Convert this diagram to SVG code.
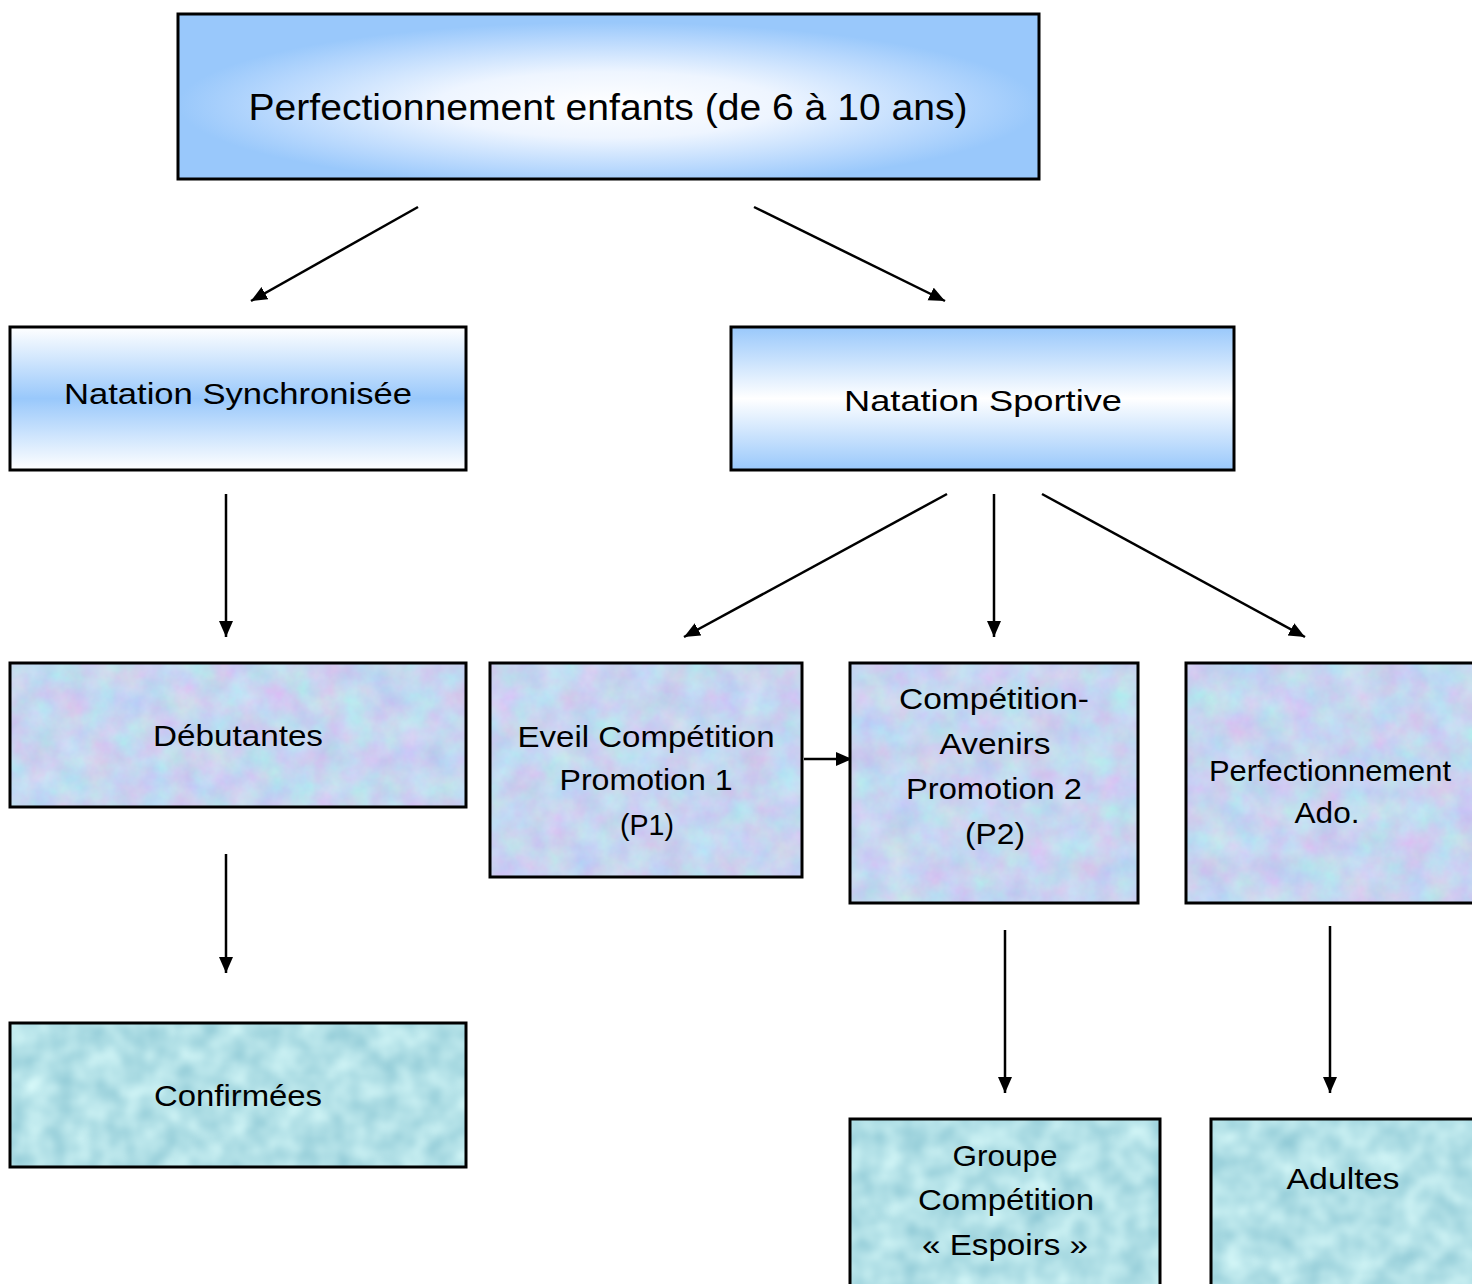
<svg xmlns="http://www.w3.org/2000/svg" width="1472" height="1284" viewBox="0 0 1472 1284">
<style>
  .box { fill: none; stroke: #000; stroke-width: 3; }
  .t { font-family: "Liberation Sans", "DejaVu Sans", sans-serif; font-size: 30px; fill: #000; text-anchor: middle; }
  .conn line { stroke: #000; stroke-width: 2.5; marker-end: url(#ah); }
</style>
<defs>
  <marker id="ah" markerUnits="userSpaceOnUse" markerWidth="18" markerHeight="16" refX="16" refY="7" orient="auto">
    <path d="M0,0 L16,7 L0,14 z" fill="#000"/>
  </marker>
  <radialGradient id="gTop" cx="0.5" cy="0.55" r="0.5">
    <stop offset="0" stop-color="#ffffff"/>
    <stop offset="0.4" stop-color="#eef5ff"/>
    <stop offset="0.8" stop-color="#b6d7fd"/>
    <stop offset="1" stop-color="#99c8fb"/>
  </radialGradient>
  <linearGradient id="gSync" x1="0" y1="0" x2="0" y2="1">
    <stop offset="0" stop-color="#ffffff"/>
    <stop offset="0.5" stop-color="#99c8fb"/>
    <stop offset="1" stop-color="#ffffff"/>
  </linearGradient>
  <linearGradient id="gSport" x1="0" y1="0" x2="0" y2="1">
    <stop offset="0" stop-color="#99c8fb"/>
    <stop offset="0.5" stop-color="#ffffff"/>
    <stop offset="1" stop-color="#99c8fb"/>
  </linearGradient>
  <filter id="mottle" x="0" y="0" width="100%" height="100%" color-interpolation-filters="sRGB">
    <feTurbulence type="fractalNoise" baseFrequency="0.035" numOctaves="4" seed="7" result="n"/>
    <feColorMatrix in="n" type="matrix" values="0.2 -0.05 0 0 0.7  -0.05 0.2 0 0 0.76  0 0 0.08 0 0.9  0 0 0 0 1" result="c"/>
    <feComposite in="c" in2="SourceAlpha" operator="in"/>
  </filter>
  <filter id="water" x="0" y="0" width="100%" height="100%" color-interpolation-filters="sRGB">
    <feTurbulence type="fractalNoise" baseFrequency="0.04" numOctaves="2" seed="11" result="n"/>
    <feColorMatrix in="n" type="matrix" values="0.3 0 0 0 0.55  0.2 0 0 0 0.78  0.15 0 0 0 0.83  0 0 0 0 1" result="c"/>
    <feComposite in="c" in2="SourceAlpha" operator="in"/>
  </filter>
</defs>
<rect width="1472" height="1284" fill="#fff"/>

<g id="connectors" class="conn">
  <line x1="418" y1="207" x2="251" y2="301"/>
  <line x1="754" y1="207" x2="945" y2="301"/>
  <line x1="226" y1="494" x2="226" y2="637"/>
  <line x1="947" y1="494" x2="684" y2="637"/>
  <line x1="994" y1="494" x2="994" y2="637"/>
  <line x1="1042" y1="494" x2="1305" y2="637"/>
  <line x1="226" y1="854" x2="226" y2="973"/>
  <line x1="804" y1="759" x2="852" y2="759"/>
  <line x1="1005" y1="930" x2="1005" y2="1093"/>
  <line x1="1330" y1="926" x2="1330" y2="1093"/>
</g>

<g id="n-top">
  <rect x="178" y="14" width="861" height="165" fill="url(#gTop)"/>
  <rect class="box" x="178" y="14" width="861" height="165"/>
  <text class="t" x="608" y="120" style="font-size:36px" textLength="719" lengthAdjust="spacingAndGlyphs">Perfectionnement enfants (de 6 à 10 ans)</text>
</g>

<g id="n-sync">
  <rect x="10" y="327" width="456" height="143" fill="url(#gSync)"/>
  <rect class="box" x="10" y="327" width="456" height="143"/>
  <text class="t" x="238" y="404" textLength="348" lengthAdjust="spacingAndGlyphs">Natation  Synchronisée</text>
</g>

<g id="n-sport">
  <rect x="731" y="327" width="503" height="143" fill="url(#gSport)"/>
  <rect class="box" x="731" y="327" width="503" height="143"/>
  <text class="t" x="983" y="411" textLength="278" lengthAdjust="spacingAndGlyphs">Natation  Sportive</text>
</g>

<g id="n-debut">
  <rect x="10" y="663" width="456" height="144" filter="url(#mottle)" fill="#000"/>
  <rect class="box" x="10" y="663" width="456" height="144"/>
  <text class="t" x="238" y="746" textLength="170" lengthAdjust="spacingAndGlyphs">Débutantes</text>
</g>

<g id="n-eveil">
  <rect x="490" y="663" width="312" height="214" filter="url(#mottle)" fill="#000"/>
  <rect class="box" x="490" y="663" width="312" height="214"/>
  <text class="t" x="646" y="747" textLength="257" lengthAdjust="spacingAndGlyphs">Eveil Compétition</text>
  <text class="t" x="646" y="790" textLength="173" lengthAdjust="spacingAndGlyphs">Promotion 1</text>
  <text class="t" x="647" y="835" textLength="54" lengthAdjust="spacingAndGlyphs">(P1)</text>
</g>

<g id="n-avenirs">
  <rect x="850" y="663" width="288" height="240" filter="url(#mottle)" fill="#000"/>
  <rect class="box" x="850" y="663" width="288" height="240"/>
  <text class="t" x="994" y="709" textLength="190" lengthAdjust="spacingAndGlyphs">Compétition-</text>
  <text class="t" x="995" y="754" textLength="111" lengthAdjust="spacingAndGlyphs">Avenirs</text>
  <text class="t" x="994" y="799" textLength="176" lengthAdjust="spacingAndGlyphs">Promotion 2</text>
  <text class="t" x="995" y="844" textLength="60" lengthAdjust="spacingAndGlyphs">(P2)</text>
</g>

<g id="n-ado">
  <rect x="1186" y="663" width="300" height="240" filter="url(#mottle)" fill="#000"/>
  <rect class="box" x="1186" y="663" width="300" height="240"/>
  <text class="t" x="1330" y="781" textLength="242" lengthAdjust="spacingAndGlyphs">Perfectionnement</text>
  <text class="t" x="1327" y="823" textLength="65" lengthAdjust="spacingAndGlyphs">Ado.</text>
</g>

<g id="n-confirm">
  <rect x="10" y="1023" width="456" height="144" filter="url(#water)" fill="#000"/>
  <rect class="box" x="10" y="1023" width="456" height="144"/>
  <text class="t" x="238" y="1106" textLength="168" lengthAdjust="spacingAndGlyphs">Confirmées</text>
</g>

<g id="n-espoirs">
  <rect x="850" y="1119" width="310" height="180" filter="url(#water)" fill="#000"/>
  <rect class="box" x="850" y="1119" width="310" height="180"/>
  <text class="t" x="1005" y="1166" textLength="105" lengthAdjust="spacingAndGlyphs">Groupe</text>
  <text class="t" x="1006" y="1210" textLength="176" lengthAdjust="spacingAndGlyphs">Compétition</text>
  <text class="t" x="1005" y="1255" textLength="166" lengthAdjust="spacingAndGlyphs">« Espoirs »</text>
</g>

<g id="n-adultes">
  <rect x="1211" y="1119" width="280" height="180" filter="url(#water)" fill="#000"/>
  <rect class="box" x="1211" y="1119" width="280" height="180"/>
  <text class="t" x="1343" y="1189" textLength="113" lengthAdjust="spacingAndGlyphs">Adultes</text>
</g>
</svg>
